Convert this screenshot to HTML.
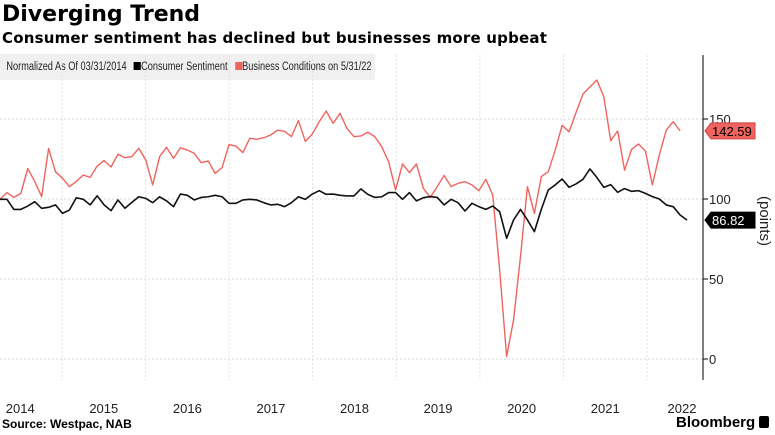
<!DOCTYPE html>
<html><head><meta charset="utf-8"><style>
body{margin:0;background:#fff;font-family:"Liberation Sans",sans-serif;}
#wrap{position:relative;width:775px;height:435px;overflow:hidden;}
.t{position:absolute;white-space:nowrap;}
</style></head><body>
<div id="wrap">
<div class="t" style="left:2px;top:2px;font-size:22px;font-weight:bold;font-family:'DejaVu Sans',sans-serif;">Diverging Trend</div>
<div class="t" style="left:2px;top:29px;font-size:15px;font-weight:bold;font-family:'DejaVu Sans',sans-serif;letter-spacing:0.2px;">Consumer sentiment has declined but businesses more upbeat</div>
<div class="t" style="left:0;top:54px;width:375px;height:26px;background:#f0f0f0;"></div>
<div class="t" style="left:0;top:54px;height:26px;font-size:11.5px;line-height:26px;color:#222;transform:scaleX(0.8);transform-origin:0 0;">
 <span style="margin-left:8px;">Normalized As Of 03/31/2014</span>
 <span style="margin-left:6px;"><span style="display:inline-block;width:9px;height:8px;background:#000;"></span>Consumer Sentiment</span>
 <span style="margin-left:6px;"><span style="display:inline-block;width:9px;height:8px;background:#f0645f;"></span>Business Conditions on 5/31/22</span>
</div>
<svg id="svg" width="775" height="435" style="position:absolute;left:0;top:0"></svg>
<div class="t" style="left:2px;top:417px;font-size:12px;font-weight:bold;">Source: Westpac, NAB</div>
<div class="t" style="left:676px;top:414px;font-size:15px;font-weight:bold;">Bloomberg <span style="display:inline-block;width:10px;height:12px;background:#000;border-radius:2px;vertical-align:-1px;"></span></div>
</div>
<script>
const yTicks=[0,50,100,150];
const years=["2014","2015","2016","2017","2018","2019","2020","2021","2022"];
const business=[99.8,104,101,103.5,119,111,101.5,131.5,117,113,107.7,111,115,113.5,120.6,124,120,128,125.8,126.5,131.7,124.4,108.8,126.5,132.3,125.4,132,130.6,128.5,122.7,123.8,116,119.6,134,133,129,138,137.3,138.3,140,143,142.3,139,149,136,140.6,148.3,155,147.3,153.6,144,139,139.4,141.7,139,132.7,
123.3,105.6,121.9,116.5,121.9,106.7,101,107.7,114.8,107.7,109.8,110.8,108.8,105.2,112.3,102.5,55.6,1.5,24.4,64,107.7,91,114,117,130.6,146,142,154,165.6,170,174.4,164,136.4,142.5,118,131,134.4,130,108.8,127.5,143,148.3,142.59];
const consumer=[99.8,99.8,93.5,93.5,95.6,98.3,94.2,94.8,96.3,91,93.1,100.8,99.8,96.3,102,96.3,92.7,99.4,94.2,97.9,101.4,100.4,97.7,101.4,98.8,95.2,103.1,102.3,99.4,101,101.4,102.3,101.4,97.3,97.3,99.4,99.8,99.4,97.7,96.3,96.7,95.2,97.7,101.4,99.8,103.1,105.2,102.9,103.1,102.3,101.9,101.9,106.3,102.9,101,101.4,
104,104,99.8,104,98.8,100.8,101.5,101,96.3,99.8,97.7,92.5,97.3,95.2,93.5,95.6,92,75.4,86.9,93.5,86.9,79.6,93.5,105.6,108.8,112.5,107.3,109.4,112.3,118.8,113.5,107.3,109,104.2,106.5,104.8,105.2,103.5,101.5,100,96.3,95.2,90,86.82];
const NS="http://www.w3.org/2000/svg";
const svg=document.getElementById('svg');
const X0=0,STEP=6.94,AX=703;
const xs=i=>X0+i*STEP;
const ys=v=>359-v*1.6;
const yearStart=y=>62+(y-2015)*83.57;
function mk(t,a){const e=document.createElementNS(NS,t);for(const k in a)e.setAttribute(k,a[k]);svg.appendChild(e);return e;}
yTicks.forEach(v=>{
 const g=mk('line',{x1:0,x2:AX,y1:ys(v),y2:ys(v),stroke:'#d8d8d8','stroke-dasharray':'2,2'});
 
 
 const tk=mk('line',{x1:AX,x2:AX+5,y1:ys(v),y2:ys(v),stroke:'#000'});
 
 
 const t=mk('text',{x:AX+6,y:ys(v)+5,'font-size':'13','fill':'#222','font-family':'Liberation Sans'});
 t.textContent=v;
 
 
});
for(let y=2015;y<=2022;y++){
 const g=mk('line',{x1:yearStart(y),x2:yearStart(y),y1:55,y2:380,stroke:'#e0e0e0','stroke-dasharray':'2,2'});
 
 
}
years.forEach((lab,i)=>{
 const cx=yearStart(2014+i)+41.8;
 const t=mk('text',{x:Math.min(cx,682),y:413,'font-size':'13','text-anchor':'middle','fill':'#222','font-family':'Liberation Sans'});
 t.textContent=lab;
 
 
});
const ax=mk('line',{x1:AX,x2:AX,y1:55,y2:380,stroke:'#000'});


const yt=mk('text',{x:0,y:0,'font-size':'15','fill':'#222','font-family':'Liberation Sans',transform:'translate(760,196) rotate(90)'});
yt.textContent='(points)';


function series(arr,col,w,name){
 const p=mk('polyline',{points:arr.map((v,i)=>xs(i)+','+ys(v)).join(' '),fill:'none',stroke:col,'stroke-width':w,'stroke-linejoin':'round'});
 
 
}
series(business,'#f0645f',1.4,'business-conditions-line');
series(consumer,'#111',1.6,'consumer-sentiment-line');
function tag(v,bg,fg,name){
 const y=ys(v);
 const p=mk('polygon',{points:`${AX+2},${y} ${AX+8},${y-8} ${AX+52},${y-8} ${AX+52},${y+8} ${AX+8},${y+8}`,fill:bg,stroke:bg==='#000'?'#000':'#c44'});
 
 
 const t=mk('text',{x:AX+9,y:y+5,'font-size':'13','fill':fg,'font-family':'Liberation Sans'});
 t.textContent=v.toFixed(2);
 
 
}
tag(business[business.length-1],'#f0645f','#000','business-last-value-tag');
tag(consumer[consumer.length-1],'#000','#fff','consumer-last-value-tag');
</script>
</body></html>
